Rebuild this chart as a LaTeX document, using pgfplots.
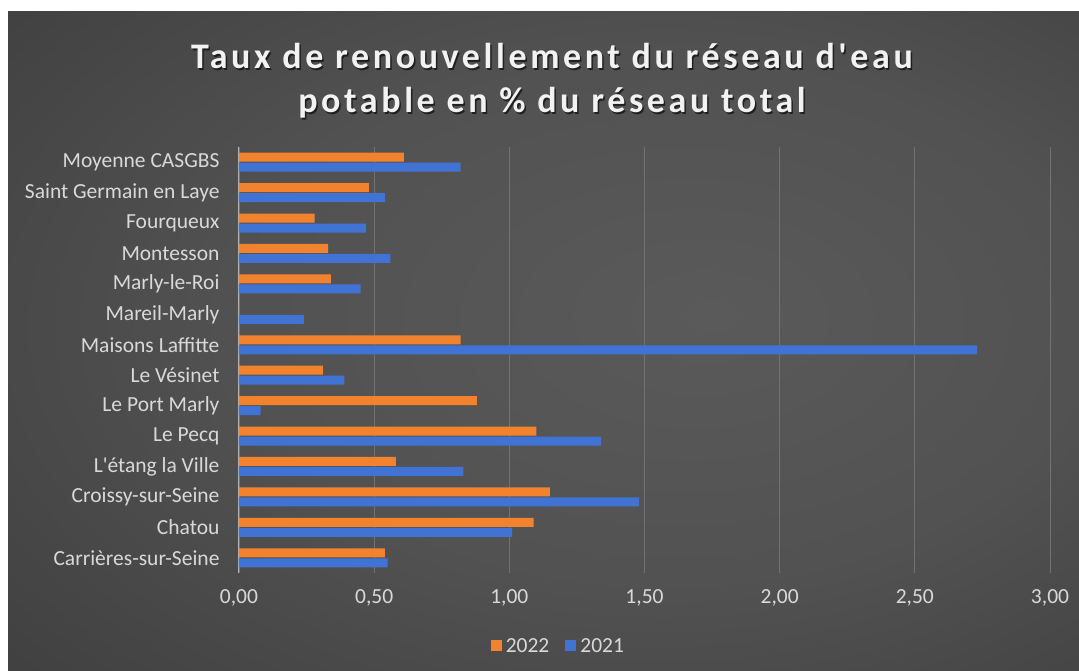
\documentclass[border=0pt]{standalone}
\usepackage{pgfplots}
\pgfplotsset{compat=1.18}
\usepackage{fontspec}
\setmainfont{Carlito}
\newfontfamily\titlefont[LetterSpace=10]{Carlito}
\definecolor{orng}{HTML}{F2822E}
\definecolor{blu}{HTML}{4173D5}
\definecolor{lbl}{HTML}{D9D9D9}
\definecolor{gridc}{HTML}{727272}
\definecolor{axc}{HTML}{B5B5B5}
\definecolor{bgin}{HTML}{5A5A5A}
\definecolor{bgout}{HTML}{222222}
\pgfdeclareradialshading{bgshade}{\pgfpoint{8bp}{2bp}}{color(0bp)=(bgin); color(20bp)=(bgin!85!bgout); color(72bp)=(bgout)}
\pgfplotstableread{
idx v2022 v2021
0 0.54 0.55
1 1.09 1.01
2 1.15 1.48
3 0.58 0.83
4 1.10 1.34
5 0.88 0.08
6 0.31 0.39
7 0.82 2.73
8 0.00 0.24
9 0.34 0.45
10 0.33 0.56
11 0.28 0.47
12 0.48 0.54
13 0.61 0.82
}\datatable
\begin{document}
\begin{tikzpicture}
\fill[white] (0pt,0pt) rectangle (1079pt,671pt);
\path[shading=bgshade] (8pt,0pt) rectangle (1079pt,659pt);
\begin{axis}[
  at={(239pt,98pt)}, anchor=south west,
  width=811pt, height=426pt, scale only axis,
  xmin=0, xmax=3, ymin=-0.5, ymax=13.5,
  xbar, bar width=9pt,
  axis x line*=bottom, axis y line*=left,
  x axis line style={draw=none},
  y axis line style={draw=axc, line width=1pt},
  xmajorgrids, grid style={gridc, line width=0.8pt},
  major tick length=0pt,
  xtick={0,0.5,1,1.5,2,2.5,3},
  xticklabels={{0,00},{0,50},{1,00},{1,50},{2,00},{2,50},{3,00}},
  ytick={0,...,13},
  yticklabels={Carrières-sur-Seine,Chatou,Croissy-sur-Seine,L\textquotesingle étang la Ville,Le Pecq,Le Port Marly,Le Vésinet,Maisons Laffitte,Mareil-Marly,Marly-le-Roi,Montesson,Fourqueux,Saint Germain en Laye,Moyenne CASGBS\ },
  ticklabel style={font=\fontsize{21.5}{25}\selectfont, text=lbl},
  xticklabel style={yshift=-13pt},
  yticklabel style={xshift=-16pt},
  legend style={at={(axis description cs:0.395,-0.171)}, anchor=center,
    draw=none, fill=none, text=lbl, font=\fontsize{21.5}{25}\selectfont,
    legend columns=2, /tikz/every even column/.append style={column sep=12pt},
    nodes={inner xsep=4pt}},
  legend image code/.code={\fill[#1,draw=none] (0pt,-5.5pt) rectangle (11pt,5.5pt);},
]
\addplot[fill=orng, draw=none, bar shift=5pt] table[x=v2022, y=idx] {\datatable};
\addplot[fill=blu, draw=none, bar shift=-5pt] table[x=v2021, y=idx] {\datatable};
\legend{2022,2021}
\end{axis}
\begin{scope}[font=\titlefont\bfseries\fontsize{36}{44}\selectfont]
\node[black, opacity=0.6, align=center, anchor=center] at (553.5pt,588.5pt) {Taux de renouvellement du réseau d'eau\\potable en \% du réseau total};
\node[white!95!black, align=center, anchor=center] at (552pt,590pt) {Taux de renouvellement du réseau d'eau\\potable en \% du réseau total};
\end{scope}
\end{tikzpicture}
\end{document}
